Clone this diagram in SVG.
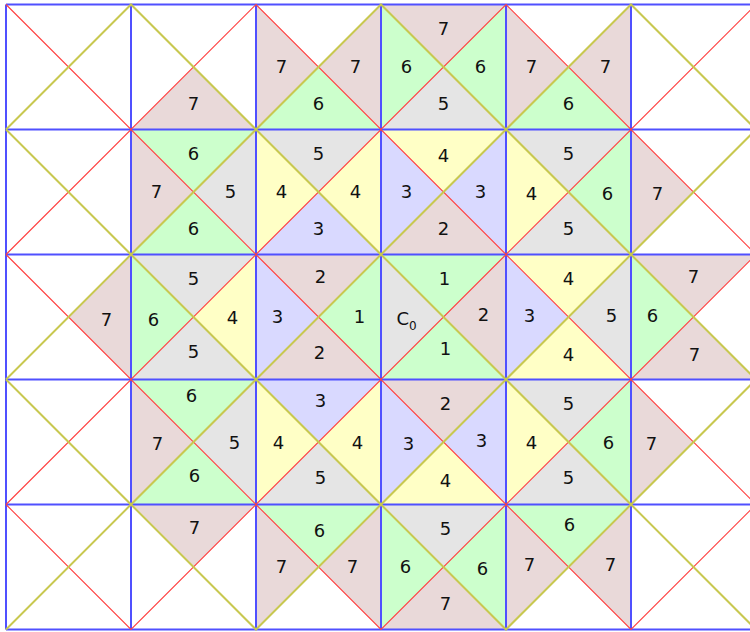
<svg xmlns="http://www.w3.org/2000/svg" width="750" height="632" viewBox="0 0 750 632">
<style>
.k0{fill:#e5e5e5}.k1{fill:#ccffcc}.k2{fill:#e9d9d9}.k3{fill:#d9d9ff}.k4{fill:#ffffc6}
text{font-family:"DejaVu Sans","Liberation Sans",sans-serif;font-size:18px;fill:#111;text-anchor:middle}
.grid{stroke:#5050ff;stroke-width:2;fill:none}
.red{stroke:#ff4040;stroke-width:1.1;fill:none}
.yel{stroke:#c8c850;stroke-width:2;fill:none}
</style>
<rect width="750" height="632" fill="#fff"/>
<g id="r0">
<g id="c1-0"><polygon class="k2" points="256,129.5 131,129.5 193.5,67"/><text x="193.5" y="110">7</text></g>
<g id="c2-0"><polygon class="k2" points="256,129.5 256,4.5 318.5,67"/><polygon class="k2" points="381,4.5 381,129.5 318.5,67"/><polygon class="k1" points="381,129.5 256,129.5 318.5,67"/><text x="281.5" y="73">7</text><text x="355.5" y="73">7</text><text x="318.5" y="110">6</text></g>
<g id="c3-0"><polygon class="k2" points="381,4.5 506,4.5 443.5,67"/><polygon class="k1" points="381,129.5 381,4.5 443.5,67"/><polygon class="k1" points="506,4.5 506,129.5 443.5,67"/><polygon class="k0" points="506,129.5 381,129.5 443.5,67"/><text x="443.5" y="35">7</text><text x="406.5" y="73">6</text><text x="480.5" y="73">6</text><text x="443.5" y="110">5</text></g>
<g id="c4-0"><polygon class="k2" points="506,129.5 506,4.5 568.5,67"/><polygon class="k2" points="631,4.5 631,129.5 568.5,67"/><polygon class="k1" points="631,129.5 506,129.5 568.5,67"/><text x="531.5" y="73">7</text><text x="605.5" y="73">7</text><text x="568.5" y="110">6</text></g>
</g>
<g id="r1">
<g id="c1-1"><polygon class="k1" points="131,129.5 256,129.5 193.5,192"/><polygon class="k2" points="131,254.5 131,129.5 193.5,192"/><polygon class="k0" points="256,129.5 256,254.5 193.5,192"/><polygon class="k1" points="256,254.5 131,254.5 193.5,192"/><text x="193.5" y="160">6</text><text x="156.5" y="198">7</text><text x="230.5" y="198">5</text><text x="193.5" y="235">6</text></g>
<g id="c2-1"><polygon class="k0" points="256,129.5 381,129.5 318.5,192"/><polygon class="k4" points="256,254.5 256,129.5 318.5,192"/><polygon class="k4" points="381,129.5 381,254.5 318.5,192"/><polygon class="k3" points="381,254.5 256,254.5 318.5,192"/><text x="318.5" y="160">5</text><text x="281.5" y="198">4</text><text x="355.5" y="198">4</text><text x="318.5" y="235">3</text></g>
<g id="c3-1"><polygon class="k4" points="381,129.5 506,129.5 443.5,192"/><polygon class="k3" points="381,254.5 381,129.5 443.5,192"/><polygon class="k3" points="506,129.5 506,254.5 443.5,192"/><polygon class="k2" points="506,254.5 381,254.5 443.5,192"/><text x="443.5" y="162">4</text><text x="406.5" y="198">3</text><text x="480.5" y="198">3</text><text x="443.5" y="235">2</text></g>
<g id="c4-1"><polygon class="k0" points="506,129.5 631,129.5 568.5,192"/><polygon class="k4" points="506,254.5 506,129.5 568.5,192"/><polygon class="k1" points="631,129.5 631,254.5 568.5,192"/><polygon class="k0" points="631,254.5 506,254.5 568.5,192"/><text x="568.5" y="160">5</text><text x="531.5" y="200">4</text><text x="607.5" y="200">6</text><text x="568.5" y="235">5</text></g>
<g id="c5-1"><polygon class="k2" points="631,254.5 631,129.5 693.5,192"/><text x="657.5" y="200">7</text></g>
</g>
<g id="r2">
<g id="c0-2"><polygon class="k2" points="131,254.5 131,379.5 68.5,317"/><text x="106.5" y="326">7</text></g>
<g id="c1-2"><polygon class="k0" points="131,254.5 256,254.5 193.5,317"/><polygon class="k1" points="131,379.5 131,254.5 193.5,317"/><polygon class="k4" points="256,254.5 256,379.5 193.5,317"/><polygon class="k0" points="256,379.5 131,379.5 193.5,317"/><text x="193.5" y="285">5</text><text x="153.5" y="326">6</text><text x="232.5" y="324">4</text><text x="193.5" y="358">5</text></g>
<g id="c2-2"><polygon class="k2" points="256,254.5 381,254.5 318.5,317"/><polygon class="k3" points="256,379.5 256,254.5 318.5,317"/><polygon class="k1" points="381,254.5 381,379.5 318.5,317"/><polygon class="k2" points="381,379.5 256,379.5 318.5,317"/><text x="320.5" y="283">2</text><text x="277.5" y="323">3</text><text x="359.5" y="323">1</text><text x="319.5" y="359">2</text></g>
<g id="c3-2"><polygon class="k1" points="381,254.5 506,254.5 443.5,317"/><polygon class="k0" points="381,379.5 381,254.5 443.5,317"/><polygon class="k2" points="506,254.5 506,379.5 443.5,317"/><polygon class="k1" points="506,379.5 381,379.5 443.5,317"/><text x="444.5" y="285">1</text><text x="406.5" y="325">C<tspan font-size="12" dy="5">0</tspan></text><text x="483.5" y="321">2</text><text x="445.5" y="355">1</text></g>
<g id="c4-2"><polygon class="k4" points="506,254.5 631,254.5 568.5,317"/><polygon class="k3" points="506,379.5 506,254.5 568.5,317"/><polygon class="k0" points="631,254.5 631,379.5 568.5,317"/><polygon class="k4" points="631,379.5 506,379.5 568.5,317"/><text x="568.5" y="285">4</text><text x="529.5" y="322">3</text><text x="611.5" y="322">5</text><text x="568.5" y="361">4</text></g>
<g id="c5-2"><polygon class="k2" points="631,254.5 756,254.5 693.5,317"/><polygon class="k1" points="631,379.5 631,254.5 693.5,317"/><polygon class="k2" points="756,379.5 631,379.5 693.5,317"/><text x="693.5" y="283">7</text><text x="652.5" y="322">6</text><text x="694.5" y="361">7</text></g>
</g>
<g id="r3">
<g id="c1-3"><polygon class="k1" points="131,379.5 256,379.5 193.5,442"/><polygon class="k2" points="131,504.5 131,379.5 193.5,442"/><polygon class="k0" points="256,379.5 256,504.5 193.5,442"/><polygon class="k1" points="256,504.5 131,504.5 193.5,442"/><text x="191.5" y="402">6</text><text x="157.5" y="450">7</text><text x="234.5" y="449">5</text><text x="194.5" y="482">6</text></g>
<g id="c2-3"><polygon class="k3" points="256,379.5 381,379.5 318.5,442"/><polygon class="k4" points="256,504.5 256,379.5 318.5,442"/><polygon class="k4" points="381,379.5 381,504.5 318.5,442"/><polygon class="k0" points="381,504.5 256,504.5 318.5,442"/><text x="320.5" y="407">3</text><text x="278.5" y="449">4</text><text x="357.5" y="449">4</text><text x="320.5" y="484">5</text></g>
<g id="c3-3"><polygon class="k2" points="381,379.5 506,379.5 443.5,442"/><polygon class="k3" points="381,504.5 381,379.5 443.5,442"/><polygon class="k3" points="506,379.5 506,504.5 443.5,442"/><polygon class="k4" points="506,504.5 381,504.5 443.5,442"/><text x="445.5" y="410">2</text><text x="408.5" y="450">3</text><text x="481.5" y="447">3</text><text x="445.5" y="487">4</text></g>
<g id="c4-3"><polygon class="k0" points="506,379.5 631,379.5 568.5,442"/><polygon class="k4" points="506,504.5 506,379.5 568.5,442"/><polygon class="k1" points="631,379.5 631,504.5 568.5,442"/><polygon class="k0" points="631,504.5 506,504.5 568.5,442"/><text x="568.5" y="410">5</text><text x="531.5" y="449">4</text><text x="608.5" y="449">6</text><text x="568.5" y="484">5</text></g>
<g id="c5-3"><polygon class="k2" points="631,504.5 631,379.5 693.5,442"/><text x="651.5" y="450">7</text></g>
</g>
<g id="r4">
<g id="c1-4"><polygon class="k2" points="131,504.5 256,504.5 193.5,567"/><text x="194.5" y="534">7</text></g>
<g id="c2-4"><polygon class="k1" points="256,504.5 381,504.5 318.5,567"/><polygon class="k2" points="256,629.5 256,504.5 318.5,567"/><polygon class="k2" points="381,504.5 381,629.5 318.5,567"/><text x="319.5" y="537">6</text><text x="281.5" y="573">7</text><text x="352.5" y="573">7</text></g>
<g id="c3-4"><polygon class="k0" points="381,504.5 506,504.5 443.5,567"/><polygon class="k1" points="381,629.5 381,504.5 443.5,567"/><polygon class="k1" points="506,504.5 506,629.5 443.5,567"/><polygon class="k2" points="506,629.5 381,629.5 443.5,567"/><text x="445.5" y="535">5</text><text x="405.5" y="573">6</text><text x="482.5" y="575">6</text><text x="445.5" y="610">7</text></g>
<g id="c4-4"><polygon class="k1" points="506,504.5 631,504.5 568.5,567"/><polygon class="k2" points="506,629.5 506,504.5 568.5,567"/><polygon class="k2" points="631,504.5 631,629.5 568.5,567"/><text x="569.5" y="531">6</text><text x="529.5" y="571">7</text><text x="610.5" y="571">7</text></g>
</g>
<g id="connectors">
<path class="grid" d="M6,4.5V629.5M131,4.5V629.5M256,4.5V629.5M381,4.5V629.5M506,4.5V629.5M631,4.5V629.5M6,4.5H756M6,129.5H756M6,254.5H756M6,379.5H756M6,504.5H756M6,629.5H756"/>
<polyline class="red" points="6,4.5 131,129.5 256,4.5 381,129.5 506,4.5 631,129.5 756,4.5"/>
<polyline class="red" points="6,254.5 131,129.5 256,254.5 381,129.5 506,254.5 631,129.5 756,254.5"/>
<polyline class="red" points="6,254.5 131,379.5 256,254.5 381,379.5 506,254.5 631,379.5 756,254.5"/>
<polyline class="red" points="6,504.5 131,379.5 256,504.5 381,379.5 506,504.5 631,379.5 756,504.5"/>
<polyline class="red" points="6,504.5 131,629.5 256,504.5 381,629.5 506,504.5 631,629.5 756,504.5"/>
<polyline class="yel" points="6,129.5 131,4.5 256,129.5 381,4.5 506,129.5 631,4.5 756,129.5"/>
<polyline class="yel" points="6,129.5 131,254.5 256,129.5 381,254.5 506,129.5 631,254.5 756,129.5"/>
<polyline class="yel" points="6,379.5 131,254.5 256,379.5 381,254.5 506,379.5 631,254.5 756,379.5"/>
<polyline class="yel" points="6,379.5 131,504.5 256,379.5 381,504.5 506,379.5 631,504.5 756,379.5"/>
<polyline class="yel" points="6,629.5 131,504.5 256,629.5 381,504.5 506,629.5 631,504.5 756,629.5"/>
</g>
</svg>
